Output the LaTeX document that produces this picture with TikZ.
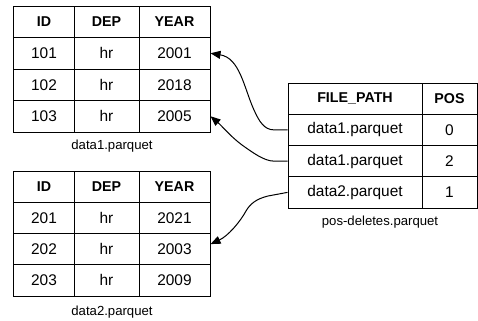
\documentclass[tikz,border=0pt]{standalone}
\usepackage{fontspec}
\setmainfont{Liberation Sans}
\usetikzlibrary{arrows.meta}
\tikzset{
  cell/.style={draw=black, line width=1bp, inner sep=0pt, anchor=center,
    font=\fontsize{15.5}{17}\selectfont},
  head/.style={cell, font=\fontsize{14.3}{17}\selectfont\bfseries},
  caption/.style={inner sep=0pt, font=\fontsize{13.2}{15}\selectfont},
  ptr/.style={line width=1bp, -{Triangle[length=10bp,width=8bp]}},
}
% one row of a data file table: style, row name, centre y, height, three cells
\newcommand\drow[7][cell]{%
  \node[#1,minimum width=60bp,minimum height=#4bp] (#2-id)   at (44,#3)    {#5};
  \node[#1,minimum width=65bp,minimum height=#4bp] (#2-dep)  at (106.5,#3) {#6};
  \node[#1,minimum width=71bp,minimum height=#4bp] (#2-year) at (174.5,#3) {#7};}
% one row of the position-delete table
\newcommand\prow[5][cell]{%
  \node[#1,minimum width=134bp,minimum height=31.25bp] (#2-path) at (355,#3)   {#4};
  \node[#1,minimum width=55bp, minimum height=31.25bp] (#2-pos)  at (449.5,#3) {#5};}
\begin{document}
\begin{tikzpicture}[x=1bp,y=-1bp]
\useasboundingbox (0,0) rectangle (478,320);

% data1.parquet
\drow[head]{a0}{21.75}{31.5}{ID}{DEP}{YEAR}
\drow{a1}{53.25}{31.5}{101}{hr}{2001}
\drow{a2}{84.75}{31.5}{102}{hr}{2018}
\drow{a3}{116.25}{31.5}{103}{hr}{2005}
\node[caption] (cap1) at (112,146) {data1.parquet};

% data2.parquet
\drow[head]{b0}{186.625}{31.25}{ID}{DEP}{YEAR}
\drow{b1}{217.875}{31.25}{201}{hr}{2021}
\drow{b2}{249.125}{31.25}{202}{hr}{2003}
\drow{b3}{280.375}{31.25}{203}{hr}{2009}
\node[caption] (cap2) at (112,312) {data2.parquet};

% pos-deletes.parquet
\prow[head]{p0}{98.625}{FILE\_PATH}{POS}
\prow{p1}{129.875}{data1.parquet}{0}
\prow{p2}{161.125}{data1.parquet}{2}
\prow{p3}{192.375}{data2.parquet}{1}
\node[caption] (cap3) at (380,222) {pos-deletes.parquet};

% delete pointers
\draw[ptr] (p1-path.west) -- (274,129.875)
  .. controls (264,129.875) and (259,121) .. (254,110)
  .. controls (244,88) and (240,58) .. (a1-year.east);
\draw[ptr] (p2-path.west) -- (274,161.125)
  .. controls (264,161.125) and (252,152) .. (242,145)
  .. controls (230,136) and (222,126) .. (a3-year.east);
\draw[ptr] (p3-path.west) -- (268,196)
  .. controls (256,199) and (250,204) .. (246,211)
  .. controls (240,222) and (228,236) .. ([yshift=5bp]b2-year.east);
\end{tikzpicture}
\end{document}
